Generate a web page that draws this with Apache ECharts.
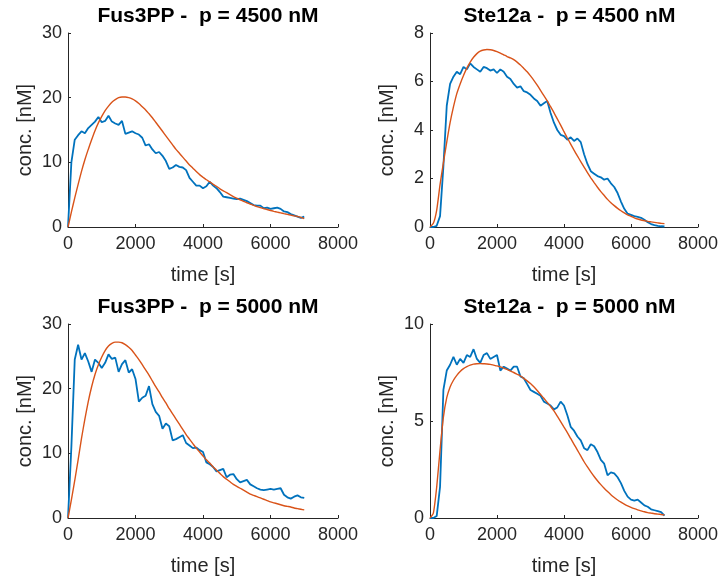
<!DOCTYPE html>
<html>
<head>
<meta charset="utf-8">
<script src="https://cdn.jsdelivr.net/npm/echarts@6/dist/echarts.min.js"></script>
<style>
html,body{margin:0;padding:0;background:#fff;}
#chart{width:721px;height:582px;}
</style>
</head>
<body>
<div id="chart"></div>
<script>
// time grid (s), 100 s sampling from 0 to 7000
const timeStep = 100;

const titles = [
  "Fus3PP -  p = 4500 nM",
  "Ste12a -  p = 4500 nM",
  "Fus3PP -  p = 5000 nM",
  "Ste12a -  p = 5000 nM"
];
const xLabel = "time [s]";
const yLabel = "conc. [nM]";
const xTicks = [0, 2000, 4000, 6000, 8000];
const yMax = [30, 8, 30, 10];
const yStep = [10, 2, 10, 5];

// Stochastic (blue) series
const fus4500Stoch = [0,10,13.5,14.2,14.8,14.5,15.3,15.8,16.3,17.0,16.2,16.4,17.2,16.3,16.0,15.8,16.4,14.4,14.6,14.8,14.5,14.3,13.8,12.6,12.8,12.0,11.4,11.6,11.0,10.2,9.0,9.2,9.6,9.3,9.2,8.8,7.6,7.0,6.4,6.4,6.0,6.3,7.0,6.4,6.0,5.4,4.7,4.6,4.5,4.4,4.3,4.4,4.2,4.0,3.7,3.4,3.3,3.3,2.9,3.0,2.8,2.9,3.0,2.8,2.4,2.3,2.0,1.8,1.6,1.4,1.6];
const ste4500Stoch = [0,0,0.05,0.45,2.5,5.0,5.9,6.2,6.4,6.3,6.6,6.5,6.75,6.6,6.5,6.4,6.6,6.55,6.45,6.5,6.35,6.5,6.4,6.2,6.1,5.9,5.75,5.8,5.6,5.55,5.45,5.3,5.2,5.0,5.1,5.2,4.7,4.3,4.0,3.8,3.75,3.6,3.7,3.55,3.65,3.5,3.0,2.6,2.3,2.2,2.1,2.05,1.95,2.0,1.8,1.65,1.4,1.05,0.75,0.55,0.5,0.45,0.42,0.38,0.3,0.2,0.12,0.08,0.05,0.03,0.02];
const fus5000Stoch = [0,11,24.5,26.8,24.5,25.5,24.2,22.6,24.5,24.0,23.2,24.0,25.3,24.6,24.8,22.6,23.8,24.4,22.5,23.0,21.5,18.0,18.6,18.9,20.4,17.6,16.4,15.8,13.8,14.6,14.2,12.0,12.2,12.5,12.8,11.6,11.2,10.8,10.9,10.5,10.2,8.6,8.3,7.9,7.2,7.4,7.6,6.3,6.7,6.8,6.0,5.5,5.7,5.9,5.2,4.9,4.6,4.4,4.3,4.4,4.5,4.4,4.5,4.6,3.6,3.2,3.0,3.3,3.5,3.2,3.1];
const ste5000Stoch = [0,0,0.1,1.6,6.6,7.6,7.9,8.3,7.9,8.2,8.0,8.4,8.3,8.7,8.2,8.0,8.4,8.5,8.2,8.3,8.4,7.6,7.8,7.7,7.6,7.8,7.8,7.3,7.2,6.9,6.6,6.5,6.4,6.3,6.0,5.9,5.8,5.6,5.7,6.0,5.8,5.3,4.7,4.5,4.2,4.0,3.6,3.5,3.8,3.7,3.4,3.0,2.8,2.2,2.35,2.3,2.1,1.8,1.4,1.1,0.95,0.9,0.95,0.8,0.65,0.58,0.45,0.4,0.35,0.3,0.12];

// Deterministic (orange) series
const fus4500Det = [0,2.3,4.5,6.6,8.6,10.4,12.0,13.5,14.9,16.1,17.1,18.0,18.7,19.3,19.7,20.0,20.1,20.1,20.0,19.8,19.5,19.1,18.6,18.1,17.5,16.9,16.2,15.5,14.8,14.1,13.4,12.7,12.0,11.4,10.8,10.2,9.6,9.1,8.6,8.1,7.7,7.3,7.0,6.6,6.3,5.9,5.6,5.3,5.0,4.7,4.45,4.2,3.95,3.75,3.55,3.35,3.15,3.0,2.85,2.7,2.55,2.42,2.3,2.18,2.06,1.95,1.84,1.73,1.62,1.5,1.3];
const ste4500Det = [0,0.15,0.7,1.75,2.65,3.5,4.3,4.95,5.5,5.9,6.25,6.55,6.8,7.0,7.15,7.25,7.3,7.32,7.31,7.28,7.23,7.17,7.1,7.03,6.97,6.9,6.8,6.68,6.54,6.4,6.23,6.05,5.85,5.63,5.42,5.2,4.96,4.72,4.46,4.2,3.93,3.67,3.42,3.17,2.93,2.7,2.47,2.24,2.03,1.83,1.64,1.46,1.3,1.14,1.0,0.88,0.77,0.67,0.58,0.5,0.44,0.38,0.33,0.29,0.26,0.23,0.21,0.19,0.17,0.15,0.14];
const fus5000Det = [0,2.8,5.8,9.0,12.3,15.3,18.0,20.3,22.2,23.7,24.9,25.9,26.6,27.0,27.2,27.2,27.1,26.8,26.4,25.9,25.2,24.5,23.7,22.9,22.1,21.2,20.3,19.5,18.6,17.8,16.9,16.1,15.3,14.5,13.7,12.9,12.2,11.5,10.8,10.2,9.6,9.0,8.5,7.9,7.4,6.9,6.4,6.0,5.6,5.2,4.9,4.6,4.3,4.0,3.7,3.5,3.3,3.1,2.9,2.7,2.5,2.35,2.2,2.05,1.9,1.8,1.7,1.55,1.45,1.35,1.25];
const ste5000Det = [0,0.25,1.6,3.5,5.2,6.2,6.75,7.1,7.35,7.55,7.7,7.8,7.88,7.93,7.95,7.96,7.95,7.94,7.92,7.88,7.84,7.79,7.73,7.66,7.58,7.5,7.41,7.32,7.2,7.07,6.93,6.76,6.57,6.37,6.17,5.96,5.75,5.52,5.25,4.97,4.68,4.4,4.1,3.8,3.5,3.2,2.9,2.63,2.38,2.14,1.92,1.72,1.53,1.36,1.2,1.06,0.93,0.82,0.72,0.63,0.55,0.48,0.42,0.37,0.32,0.28,0.25,0.22,0.2,0.18,0.16];

const stochSets = [fus4500Stoch, ste4500Stoch, fus5000Stoch, ste5000Stoch];
const detSets = [fus4500Det, ste4500Det, fus5000Det, ste5000Det];

function pairs(vals) {
  return vals.map((v, i) => [i * timeStep, v]);
}

const FONT = "Liberation Sans, Arial, Helvetica, sans-serif";
const AXIS_COLOR = "#262626";
const BLUE = "#0072BD";
const ORANGE = "#D95319";

const grids = [
  {left: 68, top: 33, width: 270, height: 194},
  {left: 430, top: 33, width: 269, height: 194},
  {left: 68, top: 324, width: 270, height: 194},
  {left: 430, top: 324, width: 269, height: 194}
];

const option = {
  animation: false,
  backgroundColor: "#ffffff",
  title: grids.map((g, i) => ({
    text: titles[i],
    left: g.left + g.width / 2,
    top: g.top - 32,
    textAlign: "center",
    textStyle: {fontFamily: FONT, fontSize: 21, fontWeight: "bold", color: "#000"}
  })),
  grid: grids.map(g => Object.assign({containLabel: false}, g)),
  xAxis: grids.map((g, i) => ({
    gridIndex: i,
    type: "value",
    min: xTicks[0],
    max: xTicks[xTicks.length - 1],
    interval: xTicks[1] - xTicks[0],
    name: xLabel,
    nameLocation: "middle",
    nameGap: 38,
    nameTextStyle: {fontFamily: FONT, fontSize: 20, color: AXIS_COLOR},
    axisLine: {show: true, lineStyle: {color: AXIS_COLOR, width: 1}},
    axisTick: {show: true, inside: true, length: 3, lineStyle: {color: AXIS_COLOR}},
    axisLabel: {fontFamily: FONT, fontSize: 18, color: AXIS_COLOR, margin: 8,
      formatter: v => String(v)},
    splitLine: {show: false}
  })),
  yAxis: grids.map((g, i) => ({
    gridIndex: i,
    type: "value",
    min: 0,
    max: yMax[i],
    interval: yStep[i],
    name: yLabel,
    nameLocation: "middle",
    nameGap: 33,
    nameRotate: 90,
    nameTextStyle: {fontFamily: FONT, fontSize: 20, color: AXIS_COLOR},
    axisLine: {show: true, lineStyle: {color: AXIS_COLOR, width: 1}},
    axisTick: {show: true, inside: true, length: 3, lineStyle: {color: AXIS_COLOR}},
    axisLabel: {fontFamily: FONT, fontSize: 18, color: AXIS_COLOR, margin: 6,
      formatter: v => String(v)},
    splitLine: {show: false}
  })),
  series: []
};

for (let i = 0; i < 4; i++) {
  option.series.push({
    type: "line",
    xAxisIndex: i,
    yAxisIndex: i,
    data: pairs(stochSets[i]),
    showSymbol: false,
    lineStyle: {color: BLUE, width: 1.8},
    itemStyle: {color: BLUE},
    z: 2
  });
  option.series.push({
    type: "line",
    xAxisIndex: i,
    yAxisIndex: i,
    data: pairs(detSets[i]),
    showSymbol: false,
    smooth: 0.2,
    lineStyle: {color: ORANGE, width: 1.4},
    itemStyle: {color: ORANGE},
    z: 3
  });
}

const chart = echarts.init(document.getElementById("chart"), null, {renderer: "canvas"});
chart.setOption(option);
</script>
</body>
</html>
